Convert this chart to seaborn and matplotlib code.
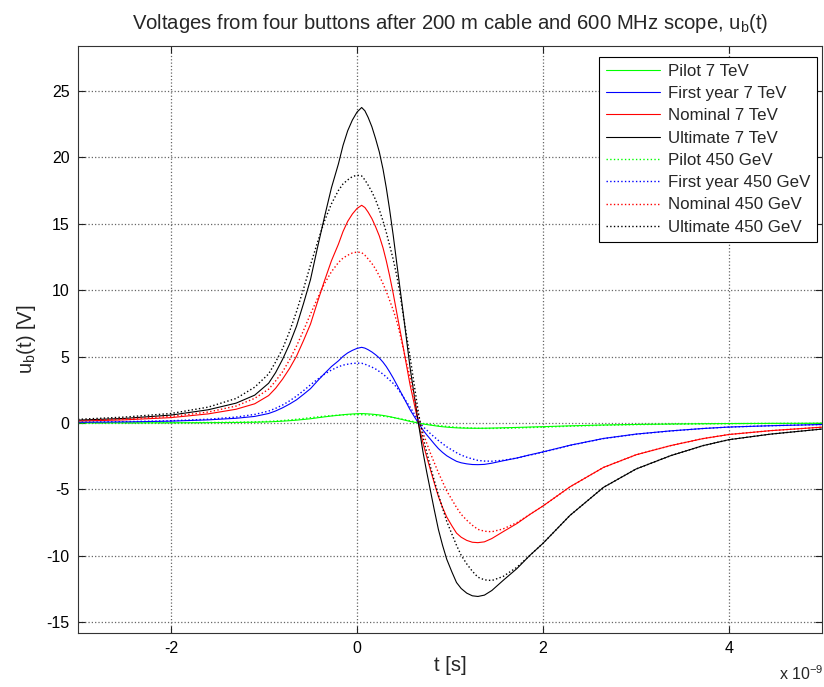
import matplotlib
matplotlib.use("Agg")
import matplotlib.pyplot as plt
import seaborn as sns
import numpy as np
import pandas as pd

# time axis in ns (displayed with x 10^-9 multiplier)
t_ns = [-3.0, -2.5, -2.0, -1.6, -1.3, -1.1, -0.95, -0.875, -0.8, -0.725, -0.65, -0.575, -0.5,
        -0.425, -0.35, -0.275, -0.2, -0.15, -0.1, -0.05, 0.0, 0.05, 0.085, 0.12, 0.16, 0.2,
        0.24, 0.28, 0.315, 0.35, 0.39, 0.43, 0.465, 0.5, 0.535, 0.57, 0.615, 0.66, 0.71,
        0.75, 0.79, 0.83, 0.875, 0.92, 0.965, 1.02, 1.07, 1.12, 1.18, 1.24, 1.3, 1.37,
        1.45, 1.57, 1.72, 1.86, 2.0, 2.29, 2.65, 3.0, 3.37, 3.72, 4.0, 4.45, 5.0]

pilot_7tev = [0.007, 0.011, 0.018, 0.03, 0.045, 0.063, 0.09, 0.114, 0.144, 0.179, 0.219, 0.27, 0.324,
              0.396, 0.465, 0.531, 0.585, 0.627, 0.66, 0.684, 0.702, 0.713, 0.705, 0.69, 0.669, 0.642,
              0.612, 0.573, 0.531, 0.483, 0.423, 0.357, 0.30, 0.243, 0.185, 0.126, 0.063, 0.0, -0.066,
              -0.111, -0.153, -0.195, -0.24, -0.276, -0.308, -0.336, -0.36, -0.374, -0.384, -0.39, -0.392, -0.389,
              -0.378, -0.356, -0.329, -0.299, -0.272, -0.209, -0.145, -0.104, -0.074, -0.051, -0.038, -0.025, -0.014]
firstyear_7tev = [0.053, 0.084, 0.144, 0.24, 0.36, 0.50, 0.72, 0.91, 1.15, 1.43, 1.75, 2.16, 2.59,
                  3.17, 3.72, 4.25, 4.68, 5.02, 5.28, 5.47, 5.62, 5.70, 5.64, 5.52, 5.35, 5.14,
                  4.90, 4.58, 4.25, 3.86, 3.38, 2.86, 2.40, 1.94, 1.48, 1.01, 0.50, 0.0, -0.53,
                  -0.89, -1.22, -1.56, -1.92, -2.21, -2.46, -2.69, -2.88, -2.99, -3.07, -3.12, -3.13, -3.11,
                  -3.02, -2.84, -2.63, -2.39, -2.17, -1.67, -1.16, -0.83, -0.59, -0.41, -0.30, -0.20, -0.11]
nominal_7tev = [0.15, 0.24, 0.41, 0.69, 1.04, 1.45, 2.07, 2.62, 3.31, 4.11, 5.04, 6.21, 7.45,
                9.11, 10.70, 12.21, 13.46, 14.42, 15.18, 15.73, 16.15, 16.39, 16.22, 15.87, 15.39, 14.77,
                14.08, 13.18, 12.21, 11.11, 9.73, 8.21, 6.90, 5.59, 4.24, 2.90, 1.45, 0.0, -1.52,
                -2.55, -3.52, -4.49, -5.52, -6.35, -7.07, -7.73, -8.28, -8.59, -8.83, -8.97, -9.0, -8.94,
                -8.69, -8.18, -7.56, -6.87, -6.24, -4.80, -3.34, -2.39, -1.70, -1.17, -0.86, -0.57, -0.31]
ultimate_7tev = [0.22, 0.35, 0.6, 1.0, 1.5, 2.1, 3.0, 3.8, 4.8, 5.95, 7.3, 9.0, 10.8,
                 13.2, 15.5, 17.7, 19.5, 20.9, 22.0, 22.8, 23.4, 23.75, 23.5, 23.0, 22.3, 21.4,
                 20.4, 19.1, 17.7, 16.1, 14.1, 11.9, 10.0, 8.1, 6.15, 4.2, 2.1, 0.0, -2.2,
                 -3.7, -5.1, -6.5, -8.0, -9.2, -10.25, -11.2, -12.0, -12.45, -12.8, -13.0, -13.05, -12.95,
                 -12.6, -11.85, -10.95, -9.95, -9.05, -6.95, -4.84, -3.46, -2.46, -1.7, -1.25, -0.83, -0.45]
pilot_450 = [0.01, 0.015, 0.024, 0.041, 0.063, 0.092, 0.126, 0.156, 0.19, 0.235, 0.286, 0.343, 0.405,
             0.462, 0.517, 0.561, 0.595, 0.612, 0.622, 0.631, 0.634, 0.632, 0.622, 0.609, 0.592, 0.571,
             0.546, 0.517, 0.488, 0.456, 0.418, 0.374, 0.326, 0.272, 0.221, 0.17, 0.099, 0.027, -0.037,
             -0.075, -0.112, -0.146, -0.184, -0.218, -0.252, -0.284, -0.313, -0.338, -0.36, -0.379, -0.394, -0.401,
             -0.403, -0.393, -0.369, -0.338, -0.308, -0.236, -0.165, -0.118, -0.084, -0.058, -0.043, -0.028, -0.015]
firstyear_450 = [0.068, 0.109, 0.174, 0.29, 0.45, 0.65, 0.90, 1.11, 1.36, 1.67, 2.03, 2.44, 2.88,
                 3.29, 3.68, 3.99, 4.24, 4.36, 4.43, 4.49, 4.51, 4.50, 4.43, 4.33, 4.21, 4.07,
                 3.88, 3.68, 3.47, 3.24, 2.98, 2.66, 2.32, 1.94, 1.57, 1.21, 0.70, 0.19, -0.27,
                 -0.53, -0.80, -1.04, -1.31, -1.55, -1.79, -2.02, -2.23, -2.41, -2.57, -2.70, -2.81, -2.86,
                 -2.87, -2.80, -2.63, -2.41, -2.19, -1.68, -1.17, -0.84, -0.60, -0.41, -0.30, -0.20, -0.11]
nominal_450 = [0.19, 0.31, 0.50, 0.83, 1.28, 1.86, 2.55, 3.17, 3.86, 4.76, 5.80, 6.97, 8.21,
               9.38, 10.49, 11.39, 12.08, 12.42, 12.63, 12.80, 12.87, 12.83, 12.63, 12.35, 12.01, 11.59,
               11.07, 10.49, 9.90, 9.25, 8.49, 7.59, 6.62, 5.52, 4.49, 3.45, 2.00, 0.55, -0.76,
               -1.52, -2.28, -2.97, -3.73, -4.42, -5.11, -5.76, -6.35, -6.87, -7.31, -7.69, -8.0, -8.14,
               -8.18, -7.97, -7.49, -6.87, -6.24, -4.80, -3.34, -2.39, -1.70, -1.17, -0.86, -0.57, -0.31]
ultimate_450 = [0.28, 0.45, 0.72, 1.2, 1.85, 2.7, 3.7, 4.6, 5.6, 6.9, 8.4, 10.1, 11.9,
                13.6, 15.2, 16.5, 17.5, 18.0, 18.3, 18.55, 18.65, 18.6, 18.3, 17.9, 17.4, 16.8,
                16.05, 15.2, 14.35, 13.4, 12.3, 11.0, 9.6, 8.0, 6.5, 5.0, 2.9, 0.8, -1.1,
                -2.2, -3.3, -4.3, -5.4, -6.4, -7.4, -8.35, -9.2, -9.95, -10.6, -11.15, -11.6, -11.8,
                -11.85, -11.55, -10.85, -9.95, -9.05, -6.95, -4.84, -3.46, -2.46, -1.7, -1.25, -0.83, -0.45]

labels = ["Pilot 7 TeV", "First year 7 TeV", "Nominal 7 TeV", "Ultimate 7 TeV",
          "Pilot 450 GeV", "First year 450 GeV", "Nominal 450 GeV", "Ultimate 450 GeV"]
series = [pilot_7tev, firstyear_7tev, nominal_7tev, ultimate_7tev,
          pilot_450, firstyear_450, nominal_450, ultimate_450]
colors = ["#00ff00", "#0000ff", "#ff0000", "#000000"] * 2
styles = ["-"] * 4 + [":"] * 4

xticks = [-2, 0, 2, 4]
yticks = [-15, -10, -5, 0, 5, 10, 15, 20, 25]

sns.set_style("ticks")
plt.rcParams["font.family"] = ["Liberation Sans", "DejaVu Sans"]
plt.rcParams["mathtext.fontset"] = "custom"
plt.rcParams["mathtext.rm"] = "Liberation Sans"
plt.rcParams["mathtext.it"] = "Liberation Sans"

fig = plt.figure(figsize=(8.24, 6.87), dpi=100)
ax = fig.add_axes([78 / 824, 1 - 633 / 687, (822 - 78) / 824, (633 - 45.7) / 687])

for lab, vals, col, ls in zip(labels, series, colors, styles):
    sns.lineplot(x=t_ns, y=vals, ax=ax, color=col, linestyle=ls, linewidth=0.8 if ls == "-" else 1.0,
                 label=lab, sort=False, estimator=None)

ax.set_xlim(-3, 5)
ax.set_ylim(-15.8, 28.4)
ax.set_xticks(xticks)
ax.set_yticks(yticks)
ax.set_xticklabels([str(v) for v in xticks])
ax.set_yticklabels([str(v) for v in yticks])
ax.tick_params(direction="in", top=True, right=True, length=5, width=0.8,
               labelsize=11.5, colors="#222222", labelcolor="black", pad=6)
ax.grid(True, linestyle=":", color="#666666", linewidth=0.9)
for s in ax.spines.values():
    s.set_color("#333333")
    s.set_linewidth(0.8)

ax.set_title("Voltages from four buttons after 200 m cable and 600 MHz scope, u$_\\mathregular{b}$(t)",
             fontsize=14.6, pad=12)
ax.set_xlabel("t [s]", fontsize=14.5, labelpad=0)
ax.set_ylabel("u$_\\mathregular{b}$(t) [V]", fontsize=14.5, labelpad=6)
fig.text(779 / 824, 7 / 687, "x 10$^{\\mathregular{-9}}$", ha="left", va="baseline", fontsize=11.5)

leg = ax.legend(loc="upper right", bbox_to_anchor=(0.9933, 0.9808), borderaxespad=0,
                fontsize=12.2, frameon=True, fancybox=False, handlelength=3.2, handletextpad=0.45,
                labelspacing=0.43, borderpad=0.4)
leg.get_frame().set_edgecolor("black")
leg.get_frame().set_linewidth(0.8)
leg.get_frame().set_alpha(1)

fig.savefig("out.png", dpi=100)
